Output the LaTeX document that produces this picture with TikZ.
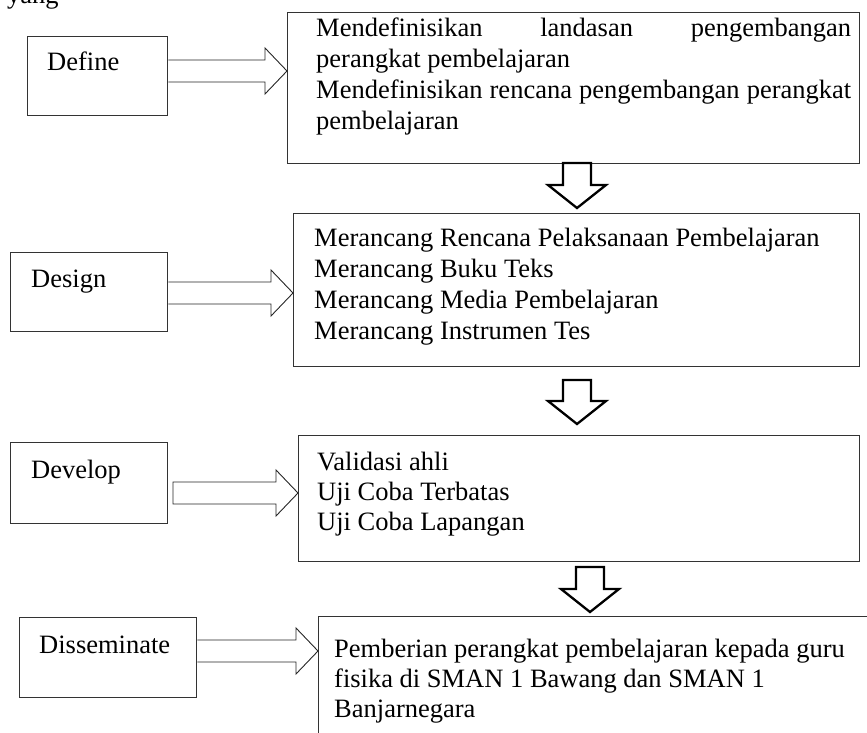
\documentclass[tikz,border=0pt]{standalone}
\usepackage{fontspec}
\setmainfont{Liberation Serif}
\usetikzlibrary{calc}
\tikzset{
  boxline/.style={draw=black!80, line width=1.4pt},
  sidebox/.style={boxline, rectangle, inner sep=0pt, anchor=north west},
  lbl/.style={anchor=base west, inner sep=0pt, font=\fontsize{26.5}{30.5}\selectfont},
  rarr/.style={draw=black!85, line width=0.9pt, line join=miter},
  darr/.style={draw=black, line width=2.3pt, line join=miter},
}
% right block arrow: start, tip (shaft half 11, head half 23, head length 22)
\newcommand\rblock[3][]{\draw[rarr,#1] ($(#2)+(0,-11)$) -- ($(#3)+(-22,-11)$) -- ($(#3)+(-22,-23)$) -- (#3) -- ($(#3)+(-22,23)$) -- ($(#3)+(-22,11)$) -- ($(#2)+(0,11)$)}
% down block arrow: top, tip
\newcommand\dblock[2]{\draw[darr] ($(#1)+(-14,0)$) -- ($(#2)+(-14,-23)$) -- ($(#2)+(-29,-23)$) -- (#2) -- ($(#2)+(29,-23)$) -- ($(#2)+(14,-23)$) -- ($(#1)+(14,0)$) -- cycle;}
\begin{document}
\begin{tikzpicture}[x=1pt,y=-1pt]
\useasboundingbox (0,0) rectangle (867,733);
\clip (0,0) rectangle (867,733);

\node[lbl] (yang) at (7,4) {yang};

% left boxes
\node[sidebox, minimum width=140pt, minimum height=79pt] (define) at (27,36) {};
\node[lbl] (tdefine) at (47,71) {Define};
\node[sidebox, minimum width=157pt, minimum height=79pt] (design) at (10,252) {};
\node[lbl] (tdesign) at (31,287) {Design};
\node[sidebox, minimum width=157pt, minimum height=81pt] (develop) at (10,442) {};
\node[lbl] (tdevelop) at (31,478) {Develop};
\node[sidebox, minimum width=177pt, minimum height=80pt] (dissem) at (19,617) {};
\node[lbl] (tdissem) at (39,653) {Disseminate};

% right boxes
\node[sidebox, minimum width=572pt, minimum height=151pt] (box1) at (287,12) {};
\node[lbl] (b1l1) at (316,37) {\hbox to 535pt{Mendefinisikan\hfill landasan\hfill pengembangan}};
\node[lbl] (b1l2) at (316,68) {perangkat pembelajaran};
\node[lbl] (b1l3) at (316,99) {\hbox to 535pt{Mendefinisikan\hfill rencana\hfill pengembangan\hfill perangkat}};
\node[lbl] (b1l4) at (316,130) {pembelajaran};

\node[sidebox, minimum width=566pt, minimum height=153pt] (box2) at (293,213) {};
\node[lbl] (b2l1) at (314,246) {Merancang Rencana Pelaksanaan Pembelajaran};
\node[lbl] (b2l2) at (314,277) {Merancang Buku Teks};
\node[lbl] (b2l3) at (314,308) {Merancang Media Pembelajaran};
\node[lbl] (b2l4) at (314,339) {Merancang Instrumen Tes};

\node[sidebox, minimum width=561pt, minimum height=126pt] (box3) at (298,435) {};
\node[lbl] (b3l1) at (317,470) {Validasi ahli};
\node[lbl] (b3l2) at (317,500) {Uji Coba Terbatas};
\node[lbl] (b3l3) at (317,530) {Uji Coba Lapangan};

\node[sidebox, minimum width=600pt, minimum height=160pt] (box4) at (318,616) {};
\node[lbl] (b4l1) at (334,657) {Pemberian perangkat pembelajaran kepada guru};
\node[lbl] (b4l2) at (334,687) {fisika di SMAN 1 Bawang dan SMAN 1};
\node[lbl] (b4l3) at (334,717) {Banjarnegara};

% right block arrows
\coordinate (r1s) at (define.east |- 0,71);
\coordinate (r1t) at (box1.west |- 0,71);
\rblock{r1s}{r1t};
\coordinate (r2s) at (design.east |- 0,293);
\coordinate (r2t) at (box2.west |- 0,293);
\rblock{r2s}{r2t};
\coordinate (r3s) at (173,493);
\coordinate (r3t) at (box3.west |- 0,493);
\rblock{r3s}{r3t} -- cycle;
\coordinate (r4s) at (dissem.east |- 0,651);
\coordinate (r4t) at (box4.west |- 0,651);
\rblock{r4s}{r4t};

% down block arrows
\coordinate (d1s) at (577,163);
\coordinate (d1t) at (577,208);
\dblock{d1s}{d1t}
\coordinate (d2s) at (577,380);
\coordinate (d2t) at (577,424);
\dblock{d2s}{d2t}
\coordinate (d3s) at (590,567);
\coordinate (d3t) at (590,612);
\dblock{d3s}{d3t}
\end{tikzpicture}
\end{document}
